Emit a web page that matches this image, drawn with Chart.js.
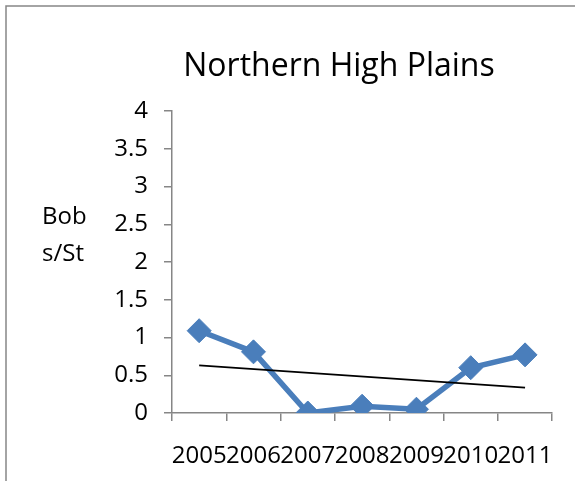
<!DOCTYPE html>
<html>
<head>
<meta charset="utf-8">
<script src="https://cdn.jsdelivr.net/npm/chart.js@4/dist/chart.umd.min.js"></script>
<style>
  html, body { margin: 0; padding: 0; background: #fff; }
  #wrap { width: 575px; height: 481px; }
</style>
</head>
<body>
<div id="wrap"><canvas id="c" width="575" height="481"></canvas></div>
<script>
// Bobwhite per station, Northern High Plains
const years = ['2005', '2006', '2007', '2008', '2009', '2010', '2011'];
const bobsPerStation = [1.09, 0.81, 0.0, 0.09, 0.05, 0.60, 0.77];
// Linear trend line, first and last year values
const trendValues = [0.63, null, null, null, null, null, 0.335];
const yTicks = [0, 0.5, 1, 1.5, 2, 2.5, 3, 3.5, 4];

const titleText = 'Northern High Plains';
const yLabelLines = ['Bob', 's/St'];

const AXIS_GRAY = '#868686';
const FONT = "'Open Sans', sans-serif";

const decorations = {
  id: 'decorations',
  afterDraw(chart) {
    const ctx = chart.ctx;
    ctx.save();
    // outer frame (left and top edges)
    ctx.strokeStyle = AXIS_GRAY;
    ctx.lineWidth = 1.5;
    ctx.beginPath();
    ctx.moveTo(6, 481);
    ctx.lineTo(6, 6);
    ctx.lineTo(575, 6);
    ctx.stroke();
    // title
    ctx.fillStyle = '#000';
    ctx.textAlign = 'center';
    ctx.textBaseline = 'alphabetic';
    ctx.font = '32px ' + FONT;
    ctx.fillText(titleText, 339, 76);
    // horizontal y-axis label
    ctx.font = '24px ' + FONT;
    ctx.textAlign = 'left';
    ctx.fillText(yLabelLines[0], 42, 224);
    ctx.fillText(yLabelLines[1], 42, 261);
    ctx.restore();
  }
};

new Chart(document.getElementById('c'), {
  type: 'line',
  data: {
    labels: years,
    datasets: [
      {
        label: 'Bobs/St',
        data: bobsPerStation,
        borderColor: '#4A7EBB',
        backgroundColor: '#4A7EBB',
        borderWidth: 5.5,
        pointStyle: 'rectRot',
        pointRadius: 12,
        pointBorderWidth: 1,
        tension: 0,
        order: 1
      },
      {
        label: 'Linear (Bobs/St)',
        data: trendValues,
        borderColor: '#000',
        borderWidth: 1.8,
        pointRadius: 0,
        spanGaps: true,
        order: 0
      }
    ]
  },
  options: {
    responsive: false,
    animation: false,
    events: [],
    layout: { padding: { left: 0, right: 21, top: 111, bottom: 0 } },
    plugins: {
      legend: { display: false },
      title: { display: false },
      tooltip: { enabled: false }
    },
    scales: {
      x: {
        offset: true,
        grid: {
          offset: true,
          drawOnChartArea: false,
          drawTicks: true,
          tickLength: 8,
          color: AXIS_GRAY,
          lineWidth: 1.5
        },
        border: { color: AXIS_GRAY, width: 1.5 },
        ticks: {
          autoSkip: false,
          maxRotation: 0,
          minRotation: 0,
          padding: 21,
          color: '#000',
          font: { family: FONT, size: 24 }
        },
        afterFit(scale) { scale.height = 68; }
      },
      y: {
        min: 0,
        max: 4,
        afterBuildTicks(scale) { scale.ticks = yTicks.map(v => ({ value: v })); },
        grid: {
          drawOnChartArea: false,
          drawTicks: true,
          tickLength: 8,
          color: AXIS_GRAY,
          lineWidth: 1.5
        },
        border: { color: AXIS_GRAY, width: 1.5 },
        ticks: {
          padding: 16,
          color: '#000',
          font: { family: FONT, size: 24 },
          callback: (v) => String(v)
        },
        afterFit(scale) { scale.width = 172; }
      }
    }
  },
  plugins: [decorations]
});
</script>
</body>
</html>
